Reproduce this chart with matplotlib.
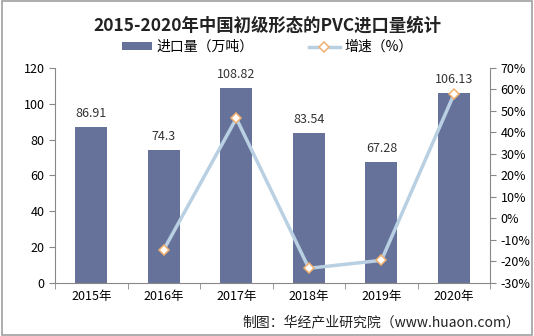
import matplotlib.pyplot as plt
import numpy as np

plt.rcParams['font.family'] = ['Noto Sans CJK SC', 'DejaVu Sans']

years = ["2015年", "2016年", "2017年", "2018年", "2019年", "2020年"]
imports = [86.91, 74.3, 108.82, 83.54, 67.28, 106.13]
growth = [None, -14.5, 46.5, -23.2, -19.5, 57.7]

bar_color = "#66729a"
line_color = "#b9d0e3"

fig = plt.figure(figsize=(5.34, 3.36), dpi=100)
fig.patches.append(plt.Rectangle((0.003, 0.003), 0.994, 0.994, transform=fig.transFigure,
                                 fill=False, edgecolor="#a0a0a0", linewidth=1.2))
ax = fig.add_axes([0.103, 0.158, 0.815, 0.64])
x = np.arange(len(years))

ax.bar(x, imports, 0.44, color=bar_color, label="进口量（万吨）", zorder=2)
for xi, v in zip(x, imports):
    ax.text(xi, v + 4, f"{v:g}", ha="center", va="bottom", fontsize=9, color="#333333")

ax.set_xlim(-0.5, len(years) - 0.5)
ax.set_ylim(0, 120)
ax.set_yticks(range(0, 121, 20))
ax.set_xticks(x)
ax.set_xticklabels(years, fontsize=9)
ax.set_xticks(np.arange(-0.5, len(years), 1), minor=True)
ax.tick_params(axis="x", which="major", length=0, pad=5)
ax.tick_params(axis="x", which="minor", length=4, color="#888888")
ax.tick_params(axis="y", labelsize=9, length=4, color="#888888")
for s in ["top", "right"]:
    ax.spines[s].set_visible(False)
for s in ["left", "bottom"]:
    ax.spines[s].set_color("#888888")

ax2 = ax.twinx()
gx = [xi for xi, g in zip(x, growth) if g is not None]
gy = [g for g in growth if g is not None]
ax2.plot(gx, gy, color=line_color, linewidth=2.5, marker="D", markersize=5,
         markerfacecolor="white", markeredgecolor="#f0b070", markeredgewidth=1.1,
         label="增速（%）", zorder=3)
ax2.set_ylim(-30, 70)
ax2.set_yticks(range(-30, 71, 10))
ax2.set_yticklabels([f"{t}%" for t in range(-30, 71, 10)])
ax2.tick_params(axis="y", labelsize=9, length=4, color="#888888")
for s in ["top", "left", "bottom"]:
    ax2.spines[s].set_visible(False)
ax2.spines["right"].set_color("#888888")

fig.text(0.5, 0.925, "2015-2020年中国初级形态的PVC进口量统计", ha="center", va="center",
         fontsize=12.5, fontweight="bold", color="#222222")
h1, l1 = ax.get_legend_handles_labels()
h2, l2 = ax2.get_legend_handles_labels()
fig.legend(h1 + h2, l1 + l2, loc="center", bbox_to_anchor=(0.5, 0.86), ncol=2,
           frameon=False, fontsize=10, handlelength=2.2, handleheight=0.5,
           columnspacing=4, handletextpad=0.3)
fig.text(0.975, 0.04, "制图：华经产业研究院（www.huaon.com）", ha="right", va="center",
         fontsize=10, color="#222222")

fig.savefig("out.png", dpi=100)
